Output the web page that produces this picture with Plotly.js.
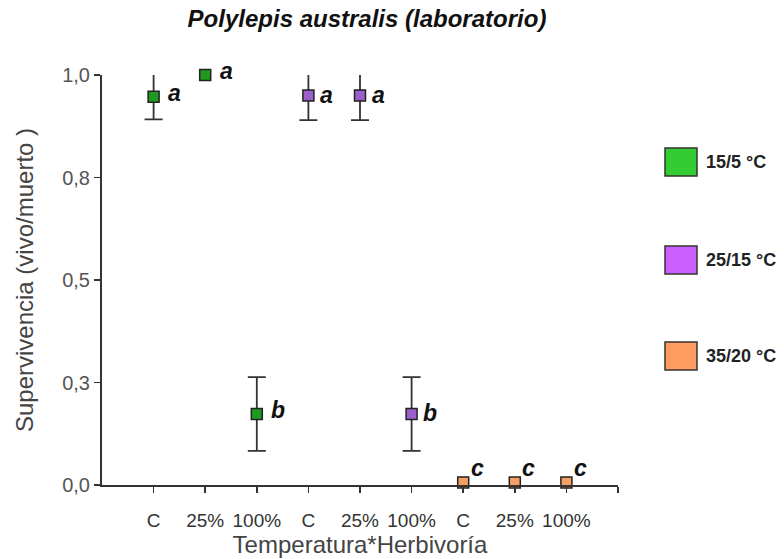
<!DOCTYPE html>
<html>
<head>
<meta charset="utf-8">
<script src="https://cdn.plot.ly/plotly-3.0.1.min.js"></script>
<style>
  html, body { margin: 0; padding: 0; background: #ffffff; }
  #chart { width: 784px; height: 559px; }
</style>
</head>
<body>
<div id="chart"></div>
<script>
// Survival of Polylepis australis seedlings by temperature regime and herbivory level
const herbivory = ["C", "25%", "100%"];
const temperatures = ["15/5 °C", "25/15 °C", "35/20 °C"];

const survival15 = [0.947, 1.0, 0.173];
const survival25 = [0.95, 0.95, 0.173];
const survival35 = [0.006, 0.006, 0.006];

const error15 = [0.055, null, 0.09];
const error25 = [0.06, 0.06, 0.09];
const error35 = [null, null, null];

const letters15 = ["a", "a", "b"];
const letters25 = ["a", "a", "b"];
const letters35 = ["c", "c", "c"];

// y ticks are evenly spaced quarters, printed with one decimal and a comma
const yTickVals = [0, 0.25, 0.5, 0.75, 1.0];
const yTickText = ["0,0", "0,3", "0,5", "0,8", "1,0"];

const FONT = "Liberation Sans, Arial, sans-serif";

const groups = [
  { name: temperatures[0], y: survival15, err: error15, letters: letters15,
    marker: "#1f9a1f", legend: "#33cc33", shiftX: 21, shiftY: 4 },
  { name: temperatures[1], y: survival25, err: error25, letters: letters25,
    marker: "#9b5fcc", legend: "#cc5fff", shiftX: 18, shiftY: 1 },
  { name: temperatures[2], y: survival35, err: error35, letters: letters35,
    marker: "#f5a062", legend: "#ff9a60", shiftX: 14, shiftY: 15 }
];

const traces = [];
const annotations = [];
const shapes = [];

// tick labels: herbivory levels repeated for each temperature, plus an unlabeled end tick
const xTickVals = [];
const xTickText = [];

groups.forEach(function (g, gi) {
  const xs = herbivory.map(function (_, hi) { return gi * herbivory.length + hi + 1; });
  xs.forEach(function (x, i) { xTickVals.push(x); xTickText.push(herbivory[i]); });

  traces.push({
    type: "scatter",
    mode: "markers",
    name: g.name,
    x: xs,
    y: g.y,
    cliponaxis: false,
    showlegend: false,
    marker: { symbol: "square", size: 11, color: g.marker,
              line: { color: "#222222", width: 1.5 } },
    error_y: { type: "data", array: g.err.map(function (e) { return e === null ? NaN : e; }),
               visible: true, color: "#333333", thickness: 1.8, width: 9 }
  });

  xs.forEach(function (x, i) {
    annotations.push({
      x: x, y: g.y[i], xref: "x", yref: "y",
      text: "<b><i>" + g.letters[i] + "</i></b>",
      showarrow: false, xanchor: "center", yanchor: "middle",
      xshift: g.shiftX, yshift: g.shiftY,
      font: { family: FONT, size: 23, color: "#111111" }
    });
  });

  // legend swatch and label on the right side
  const legendTop = [148, 246, 342][gi];
  shapes.push({
    type: "rect", xref: "paper", yref: "paper",
    x0: (665 - 102) / 516, x1: (697 - 102) / 516,
    y0: (485 - legendTop - 28) / 410, y1: (485 - legendTop) / 410,
    fillcolor: g.legend, line: { color: "#333333", width: 1.5 }
  });
  annotations.push({
    xref: "paper", yref: "paper",
    x: (704 - 102) / 516, y: (485 - legendTop - 14) / 410,
    text: "<b>" + g.name + "</b>",
    showarrow: false, xanchor: "left", yanchor: "middle",
    font: { family: FONT, size: 18, color: "#222222" }
  });
});
xTickVals.push(10);
xTickText.push("");

const layout = {
  width: 784,
  height: 559,
  margin: { l: 102, r: 166, t: 75, b: 74, pad: 0 },
  paper_bgcolor: "#ffffff",
  plot_bgcolor: "#ffffff",
  showlegend: false,
  font: { family: FONT, color: "#444444" },
  title: {
    text: "<b><i>Polylepis australis (laboratorio)</i></b>",
    font: { family: FONT, size: 24, color: "#111111" },
    x: 367 / 784, xanchor: "center",
    y: 1 - 19 / 559, yref: "container", yanchor: "middle"
  },
  xaxis: {
    range: [0, 10],
    tickmode: "array",
    tickvals: xTickVals,
    ticktext: xTickText,
    ticks: "outside", ticklen: 6, tickwidth: 1.5, tickcolor: "#333333",
    showline: true, linecolor: "#333333", linewidth: 2,
    showgrid: false, zeroline: false,
    ticklabelstandoff: 11,
    tickfont: { size: 19, color: "#333333" },
    title: { text: "Temperatura*Herbivoría", standoff: 1,
             font: { size: 24, color: "#444444" } }
  },
  yaxis: {
    range: [0, 1],
    tickmode: "array",
    tickvals: yTickVals,
    ticktext: yTickText,
    ticks: "outside", ticklen: 6, tickwidth: 1.5, tickcolor: "#333333",
    showline: true, linecolor: "#333333", linewidth: 2,
    showgrid: false, zeroline: false,
    tickfont: { size: 20, color: "#555555" },
    title: { text: "Supervivencia (vivo/muerto )", standoff: 22,
             font: { size: 24, color: "#444444" } }
  },
  shapes: shapes,
  annotations: annotations
};

Plotly.newPlot("chart", traces, layout, { displayModeBar: false, staticPlot: true });
</script>
</body>
</html>
